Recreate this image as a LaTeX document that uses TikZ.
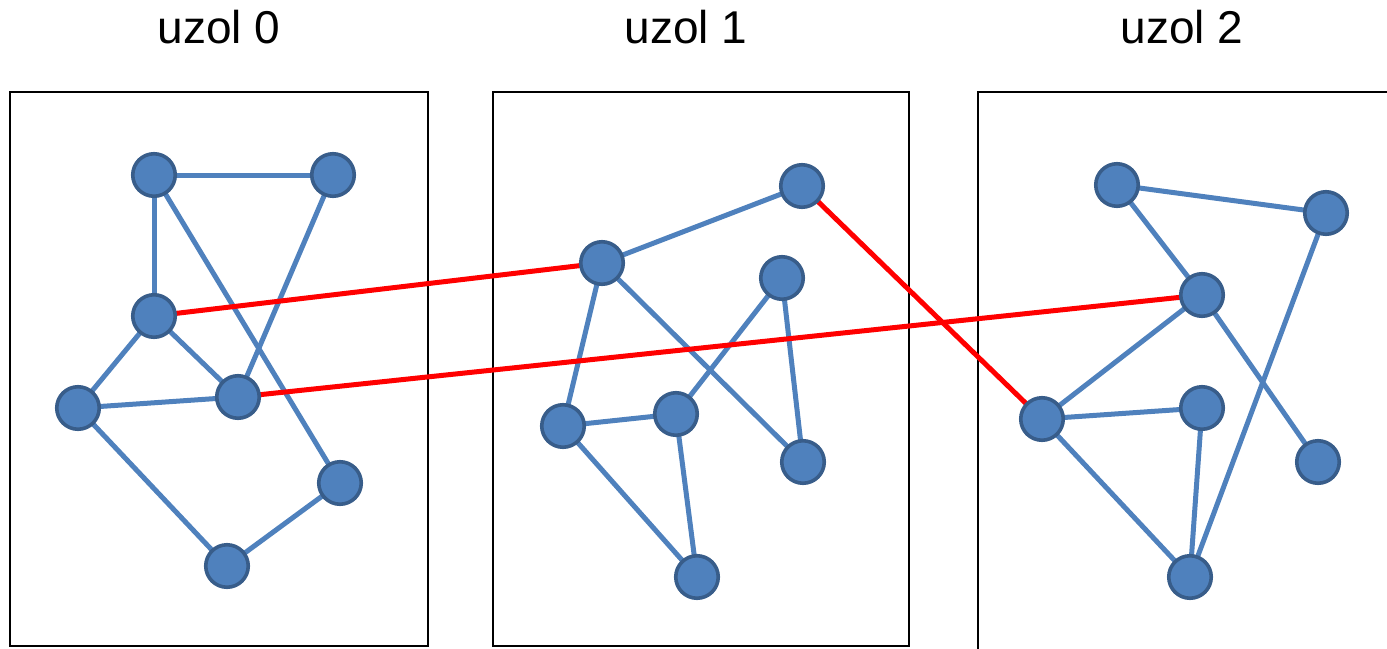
\documentclass[tikz,border=0pt]{standalone}
\usepackage{fontspec}
\setmainfont{Liberation Sans}
\pgfdeclarelayer{frames}
\pgfdeclarelayer{links}
\pgfsetlayers{frames,links,main}
\definecolor{vfill}{HTML}{4F81BD}
\definecolor{vline}{HTML}{385D8A}
\begin{document}
\begin{tikzpicture}[x=1pt,y=-1pt,
  vertex/.style={circle,fill=vfill,draw=vline,line width=3.6pt,minimum size=42.5pt,inner sep=0pt},
  link/.style={draw=vfill,line width=5pt},
  cut/.style={draw=red,line width=5pt},
  frame/.style={draw=black,line width=2.6pt},
  title/.style={font=\fontsize{46}{50}\selectfont,inner sep=0pt,anchor=base}]
\path[use as bounding box] (0,0) rectangle (1387,648);
\clip (0,0) rectangle (1387,648);

% titles
\node[title] (t0) at (219,43) {uzol 0};
\node[title] (t1) at (686,43) {uzol 1};
\node[title] (t2) at (1182,43) {uzol 2};

% partitions
\begin{pgfonlayer}{frames}
\draw[frame] (10,92) rectangle (428,646);
\draw[frame] (493,92) rectangle (909,646);
\draw[frame] (978,92) rectangle (1400,670);
\end{pgfonlayer}

% node 0
\node[vertex] (a) at (154,175) {};
\node[vertex] (b) at (333,175) {};
\node[vertex] (c) at (154,316) {};
\node[vertex] (d) at (238,397) {};
\node[vertex] (e) at (78,408) {};
\node[vertex] (f) at (340,483) {};
\node[vertex] (g) at (227,566) {};

% node 1
\node[vertex] (h) at (802,186) {};
\node[vertex] (i) at (602,263) {};
\node[vertex] (j) at (782,278) {};
\node[vertex] (k) at (563,426) {};
\node[vertex] (l) at (676,414) {};
\node[vertex] (m) at (803,462) {};
\node[vertex] (n) at (697,577) {};

% node 2
\node[vertex] (p) at (1117,185) {};
\node[vertex] (q) at (1326,213) {};
\node[vertex] (r) at (1202,295) {};
\node[vertex] (s) at (1042,419) {};
\node[vertex] (t) at (1202,408) {};
\node[vertex] (u) at (1318,462) {};
\node[vertex] (v) at (1190,577) {};

\begin{pgfonlayer}{links}
% local edges
\draw[link] (a.center) -- (b.center);
\draw[link] (a.center) -- (c.center);
\draw[link] (a.center) -- (f.center);
\draw[link] (b.center) -- (d.center);
\draw[link] (c.center) -- (d.center);
\draw[link] (c.center) -- (e.center);
\draw[link] (e.center) -- (d.center);
\draw[link] (e.center) -- (g.center);
\draw[link] (g.center) -- (f.center);

\draw[link] (h.center) -- (i.center);
\draw[link] (i.center) -- (k.center);
\draw[link] (i.center) -- (m.center);
\draw[link] (j.center) -- (l.center);
\draw[link] (j.center) -- (m.center);
\draw[link] (k.center) -- (l.center);
\draw[link] (k.center) -- (n.center);
\draw[link] (l.center) -- (n.center);

\draw[link] (p.center) -- (q.center);
\draw[link] (p.center) -- (r.center);
\draw[link] (r.center) -- (s.center);
\draw[link] (r.center) -- (u.center);
\draw[link] (s.center) -- (t.center);
\draw[link] (s.center) -- (v.center);
\draw[link] (t.center) -- (v.center);
\draw[link] (q.center) -- (v.center);

% cut edges between nodes
\draw[cut] (c.center) -- (i.center);
\draw[cut] (d.center) -- (r.center);
\draw[cut] (h.center) -- (s.center);
\end{pgfonlayer}
\end{tikzpicture}
\end{document}
